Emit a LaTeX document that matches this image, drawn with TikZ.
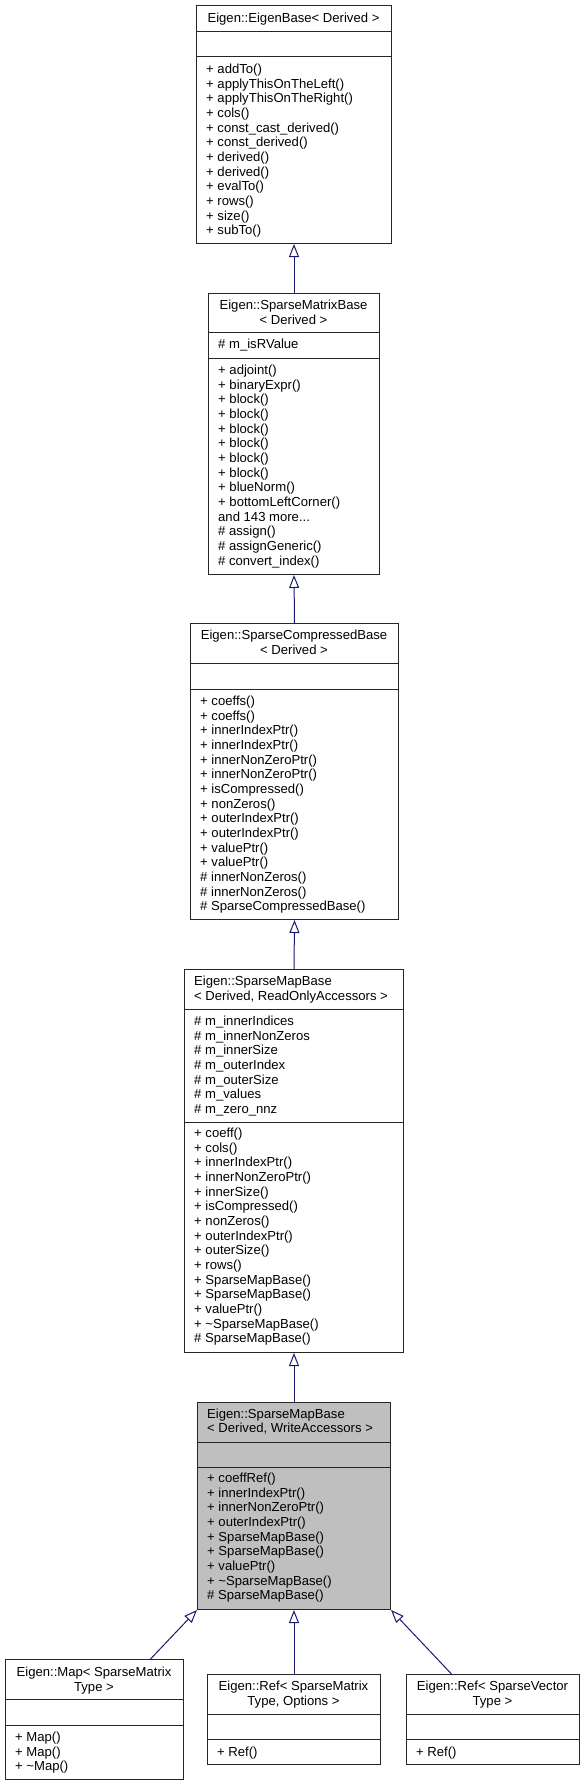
\documentclass[tikz,border=0pt]{standalone}
\usepackage{fontspec}
\setmainfont{Liberation Sans}
\usetikzlibrary{arrows.meta}
\definecolor{edgeblue}{RGB}{25,25,112}
\definecolor{boxgray}{RGB}{191,191,191}

\begin{document}
\begin{tikzpicture}[x=1pt,y=-1pt,
    cls/.style={draw=black!85,line width=1pt,inner sep=0pt,anchor=north west},
    sep/.style={draw=black!85,line width=1pt},
    txt/.style={inner sep=0pt,align=left,anchor=base west,font=\fontsize{13.1}{14.67}\selectfont},
    ttl/.style={inner sep=0pt,align=center,anchor=base,font=\fontsize{13.1}{14.67}\selectfont},
    inherit/.style={draw=edgeblue,line width=1pt,-{Triangle[open,length=13pt,width=10pt]}}]
  \useasboundingbox (0,0) rectangle (585,1785);

  \node[cls,minimum width=195pt,minimum height=238pt](eb) at (196,5){};
  \draw[sep] (eb.west |- 0,32) -- (eb.east |- 0,32);
  \draw[sep] (eb.west |- 0,57) -- (eb.east |- 0,57);
  \node[ttl](ebt) at (293.5,22.5){Eigen::EigenBase< Derived >};
  \node[txt](ebm) at (206,234.9){+ addTo()\\+ applyThisOnTheLeft()\\+ applyThisOnTheRight()\\+ cols()\\+ const\_cast\_derived()\\+ const\_derived()\\+ derived()\\+ derived()\\+ evalTo()\\+ rows()\\+ size()\\+ subTo()};

  \node[cls,minimum width=171pt,minimum height=281pt](smb) at (208,293){};
  \draw[sep] (smb.west |- 0,332) -- (smb.east |- 0,332);
  \draw[sep] (smb.west |- 0,358) -- (smb.east |- 0,358);
  \node[ttl](smbt) at (293.5,324.2){Eigen::SparseMatrixBase\\< Derived >};
  \node[txt](smba) at (218,348.5){\# m\_isRValue};
  \node[txt](smbm) at (218,565.2){+ adjoint()\\+ binaryExpr()\\+ block()\\+ block()\\+ block()\\+ block()\\+ block()\\+ block()\\+ blueNorm()\\+ bottomLeftCorner()\\and 143 more...\\\# assign()\\\# assignGeneric()\\\# convert\_index()};

  \node[cls,minimum width=208pt,minimum height=296pt](scb) at (190,623){};
  \draw[sep] (scb.west |- 0,663) -- (scb.east |- 0,663);
  \draw[sep] (scb.west |- 0,689) -- (scb.east |- 0,689);
  \node[ttl](scbt) at (294,654.2){Eigen::SparseCompressedBase\\< Derived >};
  \node[txt](scbm) at (200,910.9){+ coeffs()\\+ coeffs()\\+ innerIndexPtr()\\+ innerIndexPtr()\\+ innerNonZeroPtr()\\+ innerNonZeroPtr()\\+ isCompressed()\\+ nonZeros()\\+ outerIndexPtr()\\+ outerIndexPtr()\\+ valuePtr()\\+ valuePtr()\\\# innerNonZeros()\\\# innerNonZeros()\\\# SparseCompressedBase()};

  \node[cls,minimum width=219pt,minimum height=383pt](smro) at (184,969){};
  \draw[sep] (smro.west |- 0,1009) -- (smro.east |- 0,1009);
  \draw[sep] (smro.west |- 0,1122) -- (smro.east |- 0,1122);
  \node[txt](smrot) at (194,1000.2){Eigen::SparseMapBase\\< Derived, ReadOnlyAccessors >};
  \node[txt](smroa) at (194,1113.5){\# m\_innerIndices\\\# m\_innerNonZeros\\\# m\_innerSize\\\# m\_outerIndex\\\# m\_outerSize\\\# m\_values\\\# m\_zero\_nnz};
  \node[txt](smrom) at (194,1342.9){+ coeff()\\+ cols()\\+ innerIndexPtr()\\+ innerNonZeroPtr()\\+ innerSize()\\+ isCompressed()\\+ nonZeros()\\+ outerIndexPtr()\\+ outerSize()\\+ rows()\\+ SparseMapBase()\\+ SparseMapBase()\\+ valuePtr()\\+ \textasciitilde SparseMapBase()\\\# SparseMapBase()};

  \node[cls,fill=boxgray,minimum width=193pt,minimum height=207pt](smw) at (197,1402){};
  \draw[sep] (smw.west |- 0,1442) -- (smw.east |- 0,1442);
  \draw[sep] (smw.west |- 0,1467) -- (smw.east |- 0,1467);
  \node[txt](smwt) at (207,1432.7){Eigen::SparseMapBase\\< Derived, WriteAccessors >};
  \node[txt](smwm) at (207,1599.9){+ coeffRef()\\+ innerIndexPtr()\\+ innerNonZeroPtr()\\+ outerIndexPtr()\\+ SparseMapBase()\\+ SparseMapBase()\\+ valuePtr()\\+ \textasciitilde SparseMapBase()\\\# SparseMapBase()};

  \node[cls,minimum width=178pt,minimum height=120pt](map) at (5,1659){};
  \draw[sep] (map.west |- 0,1699) -- (map.east |- 0,1699);
  \draw[sep] (map.west |- 0,1725) -- (map.east |- 0,1725);
  \node[ttl](mapt) at (94,1691.2){Eigen::Map< SparseMatrix\\Type >};
  \node[txt](mapm) at (15,1770.8){+ Map()\\+ Map()\\+ \textasciitilde Map()};

  \node[cls,minimum width=173pt,minimum height=90pt](refm) at (207,1674){};
  \draw[sep] (refm.west |- 0,1714) -- (refm.east |- 0,1714);
  \draw[sep] (refm.west |- 0,1739) -- (refm.east |- 0,1739);
  \node[ttl](refmt) at (293.5,1705.2){Eigen::Ref< SparseMatrix\\Type, Options >};
  \node[txt](refmm) at (217,1756.5){+ Ref()};

  \node[cls,minimum width=173pt,minimum height=90pt](refv) at (406,1674){};
  \draw[sep] (refv.west |- 0,1714) -- (refv.east |- 0,1714);
  \draw[sep] (refv.west |- 0,1739) -- (refv.east |- 0,1739);
  \node[ttl](refvt) at (492.5,1705.2){Eigen::Ref< SparseVector\\Type >};
  \node[txt](refvm) at (416,1756.5){+ Ref()};

  \draw[inherit] (smb.north) -- (eb.south);
  \draw[inherit] (scb.north) -- (smb.south);
  \draw[inherit] (smro.north) -- (scb.south);
  \draw[inherit] (smw.north) -- (smro.south);
  \draw[inherit] ([xshift=56pt]map.north) -- (smw.south west);
  \draw[inherit] (refm.north) -- (smw.south);
  \draw[inherit] ([xshift=-41.5pt]refv.north) -- (smw.south east);
\end{tikzpicture}
\end{document}
